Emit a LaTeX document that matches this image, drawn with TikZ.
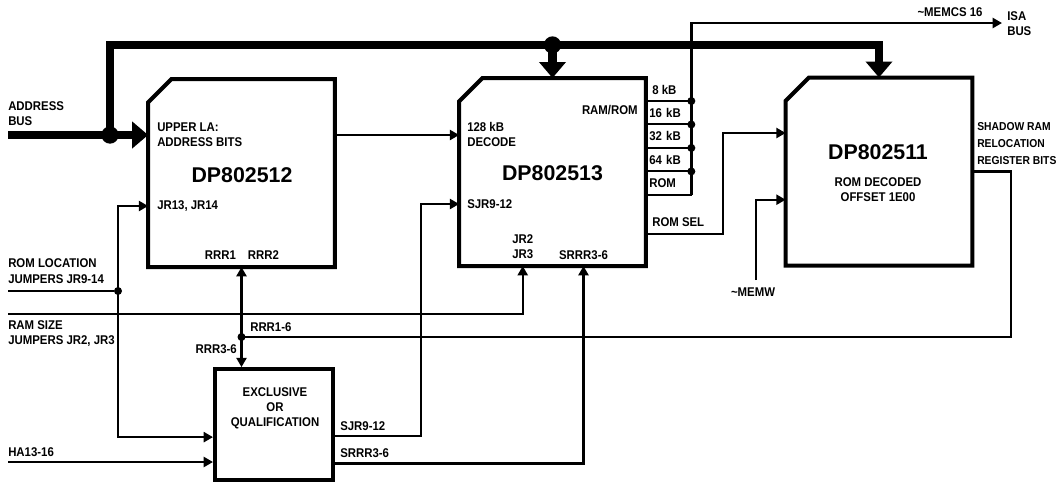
\documentclass[tikz,border=0pt]{standalone}
\usepackage{fontspec}
\setmainfont{Liberation Sans}[FakeStretch=0.9]
\newfontfamily\partfont{Liberation Sans}
\usetikzlibrary{arrows.meta,positioning,calc}
\newcommand\lblfont{\fontsize{9.5}{11.25}\selectfont\bfseries}

\begin{document}
\begin{tikzpicture}[x=0.75pt, y=-0.75pt,
    chip/.style={rectangle, minimum width=140pt, minimum height=141pt, inner sep=0pt, outer sep=0pt},
    chipline/.style={draw=black, line width=3pt, line join=miter},
    xbox/.style={rectangle, draw=black, line width=3pt, minimum width=88.5pt, minimum height=83pt, inner sep=0pt},
    cell/.style={rectangle, draw=black, line width=1.5pt, minimum height=17.6pt, text width=29pt, inner xsep=2.5pt, inner ysep=0pt, outer sep=0pt, align=left, font=\lblfont},
    lbl/.style={font=\lblfont, inner sep=0pt, align=left},
    part/.style={font=\partfont\fontsize{16}{18}\selectfont\bfseries, inner sep=0pt},
    bus/.style={line width=6.5pt, line join=miter, -{Triangle[length=12pt, width=19.5pt]}},
    sig/.style={line width=1.8pt, -{Triangle[length=7pt, width=7.5pt]}},
    sigb/.style={line width=1.8pt, {Triangle[length=7pt, width=7.5pt]}-{Triangle[length=7pt, width=7.5pt]}},
    wire/.style={line width=1.8pt},
    bigdot/.style={circle, fill=black, inner sep=0pt, minimum size=13pt},
    jdot/.style={circle, fill=black, inner sep=0pt, minimum size=6pt},
  ]
  \useasboundingbox (0,0) rectangle (1060,487);

  % blocks
  \node [chip] (b1) at (241.5,173) {};
  \node [chip] (b2) at (552.5,172) {};
  \node [chip] (b3) at (879,171.5) {};
  \foreach \b in {b1,b2,b3}
    \draw [chipline] ([yshift=-17.5pt]\b.north west) -- ([xshift=17.5pt]\b.north west) -- (\b.north east) -- (\b.south east) -- (\b.south west) -- cycle;
  \node [xbox] (xq) at (274,424.5) {};

  % size cells of DP802513
  \node [cell, anchor=north west] (k16) at (646,101) {16 kB};
  \node [cell, below=0pt of k16] (k32) {32 kB};
  \node [cell, below=0pt of k32] (k64) {64 kB};
  \node [cell, below=0pt of k64] (rom) {ROM};

  % labels
  \node [lbl, anchor=west] (addr) at (8,114) {ADDRESS\\BUS};
  \node [lbl, anchor=west] (upla) at (157,135) {UPPER LA:\\ADDRESS BITS};
  \node [part] (p12) at (242,175) {DP802512};
  \node [lbl, anchor=west] (jr1314) at (157,206) {JR13, JR14};
  \node [lbl] (rrr12) at (242,255) {RRR1\hspace{9pt}RRR2};
  \node [lbl, anchor=west] (dec) at (467,134.5) {128 kB\\DECODE};
  \node [part] (p13) at (552.5,173) {DP802513};
  \node [lbl, anchor=east] (ramrom) at (638,110) {RAM/ROM};
  \node [lbl, anchor=west] (sjr) at (467,204) {SJR9-12};
  \node [lbl, anchor=west] (jr23) at (512,247) {JR2\\JR3};
  \node [lbl] (srr) at (583.5,255) {SRRR3-6};
  \node [lbl, anchor=west] (k8) at (652,90) {8 kB};
  \node [lbl, anchor=west] (rsel) at (652,222) {ROM SEL};
  \node [part] (p11) at (878,152) {DP802511};
  \node [lbl, align=center] (rdec) at (878,190) {ROM DECODED\\OFFSET 1E00};
  \node [lbl] (memcs) at (950,12) {\textasciitilde MEMCS 16};
  \node [lbl, anchor=west] (isab) at (1007,24) {ISA\\BUS};
  \node [lbl, anchor=west, font=\fontsize{8.6}{12.75}\selectfont\bfseries] (shd) at (977,144) {SHADOW RAM\\RELOCATION\\REGISTER BITS};
  \node [lbl] (mw) at (753,292) {\textasciitilde MEMW};
  \node [lbl, anchor=west, font=\fontsize{9.5}{12}\selectfont\bfseries] (rloc) at (8,271) {ROM LOCATION\\JUMPERS JR9-14};
  \node [lbl, anchor=west] (rsz) at (8,333.5) {RAM SIZE\\JUMPERS JR2, JR3};
  \node [lbl, anchor=west] (r16) at (250,327) {RRR1-6};
  \node [lbl, anchor=east] (r36) at (237,349) {RRR3-6};
  \node [lbl, align=center] (xqt) at (275,408) {EXCLUSIVE\\OR\\QUALIFICATION};
  \node [lbl, anchor=west] (osj) at (340,426) {SJR9-12};
  \node [lbl, anchor=west] (osr) at (340,453) {SRRR3-6};
  \node [lbl, anchor=west] (ha) at (8,452) {HA13-16};

  % free ends and bends
  \coordinate (abus) at (8,135);
  \coordinate (isa) at (1002,23);
  \coordinate (romloc) at (8,291);
  \coordinate (ramsz) at (8,314);
  \coordinate (hain) at (8,462);
  \coordinate (mwin) at (756,280);
  \coordinate (rsb) at (723,133);
  \coordinate (sjb) at (421,204);
  \coordinate (sh) at (1011,337);

  % junctions
  \node [bigdot] (j1) at (110,135) {};
  \node [bigdot] (j2) at (552.5,45) {};
  \node [jdot] (jr) at (118,291) {};
  \node [jdot] (jrd) at (b1.south |- sh) {};
  \foreach \c in {k16,k32,k64,rom}
    \node [jdot] (d-\c) at (\c.north east) {};

  % address bus
  \draw [bus] (abus) -- (b1.west |- abus);
  \draw [bus] (j1.center) |- (j2.center) -| (b3.north);
  \draw [bus] (j2.center) -- (b2.north);

  % signals
  \draw [sig] (b1.east |- abus) -- (b2.west |- abus);
  \draw [wire] (romloc) -- (jr);
  \draw [sig] (jr.center) |- (b1.west |- jr1314);
  \draw [sig] (jr.center) |- ($(xq.north west)!0.61!(xq.south west)$);
  \draw [sig] (ramsz) -| (jr23.center |- b2.south);
  \draw [sig] ($(xq.north east)!0.6!(xq.south east)$) -| (sjb) -- (b2.west |- sjb);
  \draw [sig] ($(xq.north east)!0.84!(xq.south east)$) -| (srr.center |- b2.south);
  \draw [sig] (hain) -- (xq.west |- hain);
  \draw [sigb] (b1.south) -- (b1.south |- xq.north);
  \draw [wire] (b3.east) -| (sh) -- (jrd.center);
  \draw [sig] ($(b2.north east)!0.83!(b2.south east)$) -| (rsb) -- (b3.west |- rsb);
  \draw [sig] (mwin) |- ($(b3.north west)!0.65!(b3.south west)$);
  \draw [sig] (rom.south east) |- (isa);
\end{tikzpicture}
\end{document}
